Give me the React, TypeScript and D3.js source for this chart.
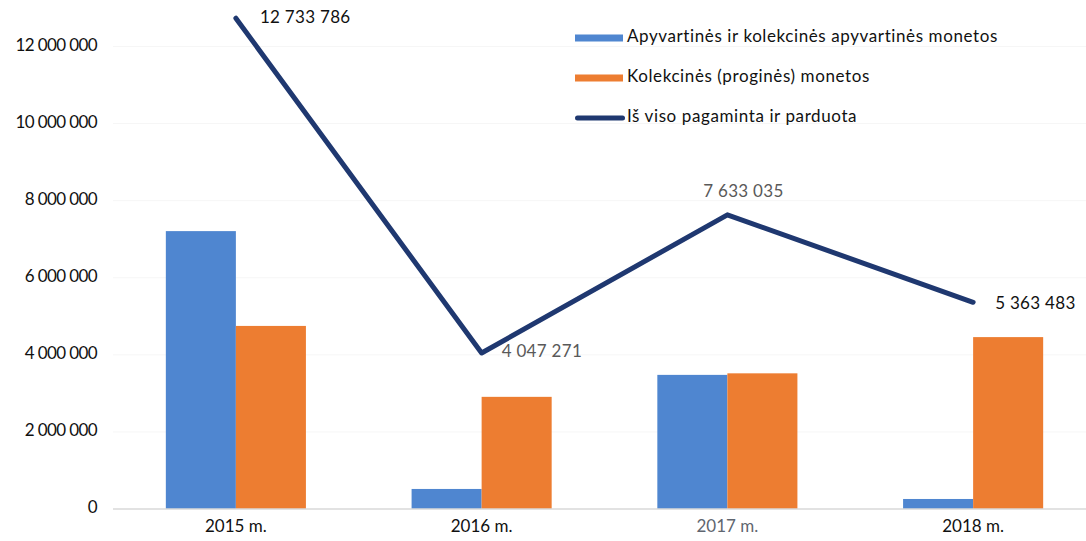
import React from "react";
import { scaleBand, scaleLinear, line } from "d3";

const years = ["2015 m.", "2016 m.", "2017 m.", "2018 m."];
const circulation = [7210000, 520000, 3480000, 260000];
const collector = [4750000, 2910000, 3520000, 4460000];
const totals = [12733786, 4047271, 7633035, 5363483];
const totalLabels = ["12 733 786", "4 047 271", "7 633 035", "5 363 483"];
const yTicks = [0, 2000000, 4000000, 6000000, 8000000, 10000000, 12000000];
const legendNames = [
  "Apyvartinės ir kolekcinės apyvartinės monetos",
  "Kolekcinės (proginės) monetos",
  "Iš viso pagaminta ir parduota",
];

const BLUE = "#4f86d0";
const ORANGE = "#ed7d31";
const NAVY = "#1f3870";
const FONT = "Lato, 'Open Sans', sans-serif";

function fmt(v: number) {
  return String(v).replace(/\B(?=(\d{3})+(?!\d))/g, " ");
}

export default function App() {
  const width = 1086;
  const height = 541;

  //x scale for the years, and the two bars inside each year
  const xScale = scaleBand().domain(years).range([113, 1096]).paddingInner(0.43).paddingOuter(0.215);
  const inner = scaleBand().domain(["a", "b"]).range([0, xScale.bandwidth()]);

  //y scale
  const yScale = scaleLinear().domain([0, 12000000]).range([509, 46.5]);

  const cx = (i: number) => (xScale(years[i]) as number) + xScale.bandwidth() / 2;
  const linePath = line<number>()
    .x((_, i) => cx(i))
    .y((d) => yScale(d))(totals) as string;

  // label placement around each line point (offsets only)
  const labelPos = [
    { dx: 24, dy: 0, anchor: "start", fill: "#111" },
    { dx: 20, dy: 0, anchor: "start", fill: "#595959" },
    { dx: 16, dy: -22, anchor: "middle", fill: "#595959" },
    { dx: 22, dy: 2, anchor: "start", fill: "#111" },
  ];

  return (
    <svg
      width={width}
      height={height}
      style={{ position: "absolute", left: 0, top: 0, background: "#fff" }}
      fontFamily={FONT}
    >
      {/* faint gridlines + y labels */}
      {yTicks.map((t) => (
        <g key={t}>
          {t !== 0 && (
            <line x1={113} x2={1086} y1={yScale(t)} y2={yScale(t)} stroke="#f6f6f6" />
          )}
          <text
            x={97}
            y={yScale(t)}
            textAnchor="end"
            dominantBaseline="middle"
            fontSize={17}
            fill="#111"
            letterSpacing={-0.6}
          >
            {fmt(t)}
          </text>
        </g>
      ))}

      {/* bars */}
      {years.map((y, i) => {
        const x0 = xScale(y) as number;
        return (
          <g key={y}>
            <rect
              x={x0 + (inner("a") as number)}
              y={yScale(circulation[i])}
              width={inner.bandwidth()}
              height={yScale(0) - yScale(circulation[i])}
              fill={BLUE}
            />
            <rect
              x={x0 + (inner("b") as number)}
              y={yScale(collector[i])}
              width={inner.bandwidth()}
              height={yScale(0) - yScale(collector[i])}
              fill={ORANGE}
            />
            <text
              x={cx(i)}
              y={528}
              textAnchor="middle"
              dominantBaseline="middle"
              fontSize={17}
              fill={i === 2 ? "#5f6670" : "#111"}
            >
              {y}
            </text>
          </g>
        );
      })}

      {/* baseline */}
      <line x1={113} x2={1086} y1={yScale(0)} y2={yScale(0)} stroke="#d9d9d9" strokeWidth={1.5} />

      {/* total line */}
      <path d={linePath} fill="none" stroke={NAVY} strokeWidth={5} strokeLinejoin="round" strokeLinecap="round" />
      {totals.map((v, i) => (
        <text
          key={i}
          x={cx(i) + labelPos[i].dx}
          y={yScale(v) + labelPos[i].dy}
          textAnchor={labelPos[i].anchor as any}
          dominantBaseline="middle"
          fontSize={17}
          fill={labelPos[i].fill}
          letterSpacing={0.3}
        >
          {totalLabels[i]}
        </text>
      ))}

      {/* legend */}
      {legendNames.map((n, i) => (
        <g key={n} transform={`translate(575, ${38 + i * 40})`}>
          <rect
            x={0}
            y={i === 2 ? -2.5 : -3.5}
            width={i === 2 ? 50 : 48}
            height={i === 2 ? 5 : 7}
            fill={[BLUE, ORANGE, NAVY][i]}
            rx={i === 2 ? 2.5 : 0}
          />
          <text x={52} y={0} dominantBaseline="middle" fontSize={17} fill="#111" letterSpacing={0.6}>
            {n}
          </text>
        </g>
      ))}
    </svg>
  );
}
